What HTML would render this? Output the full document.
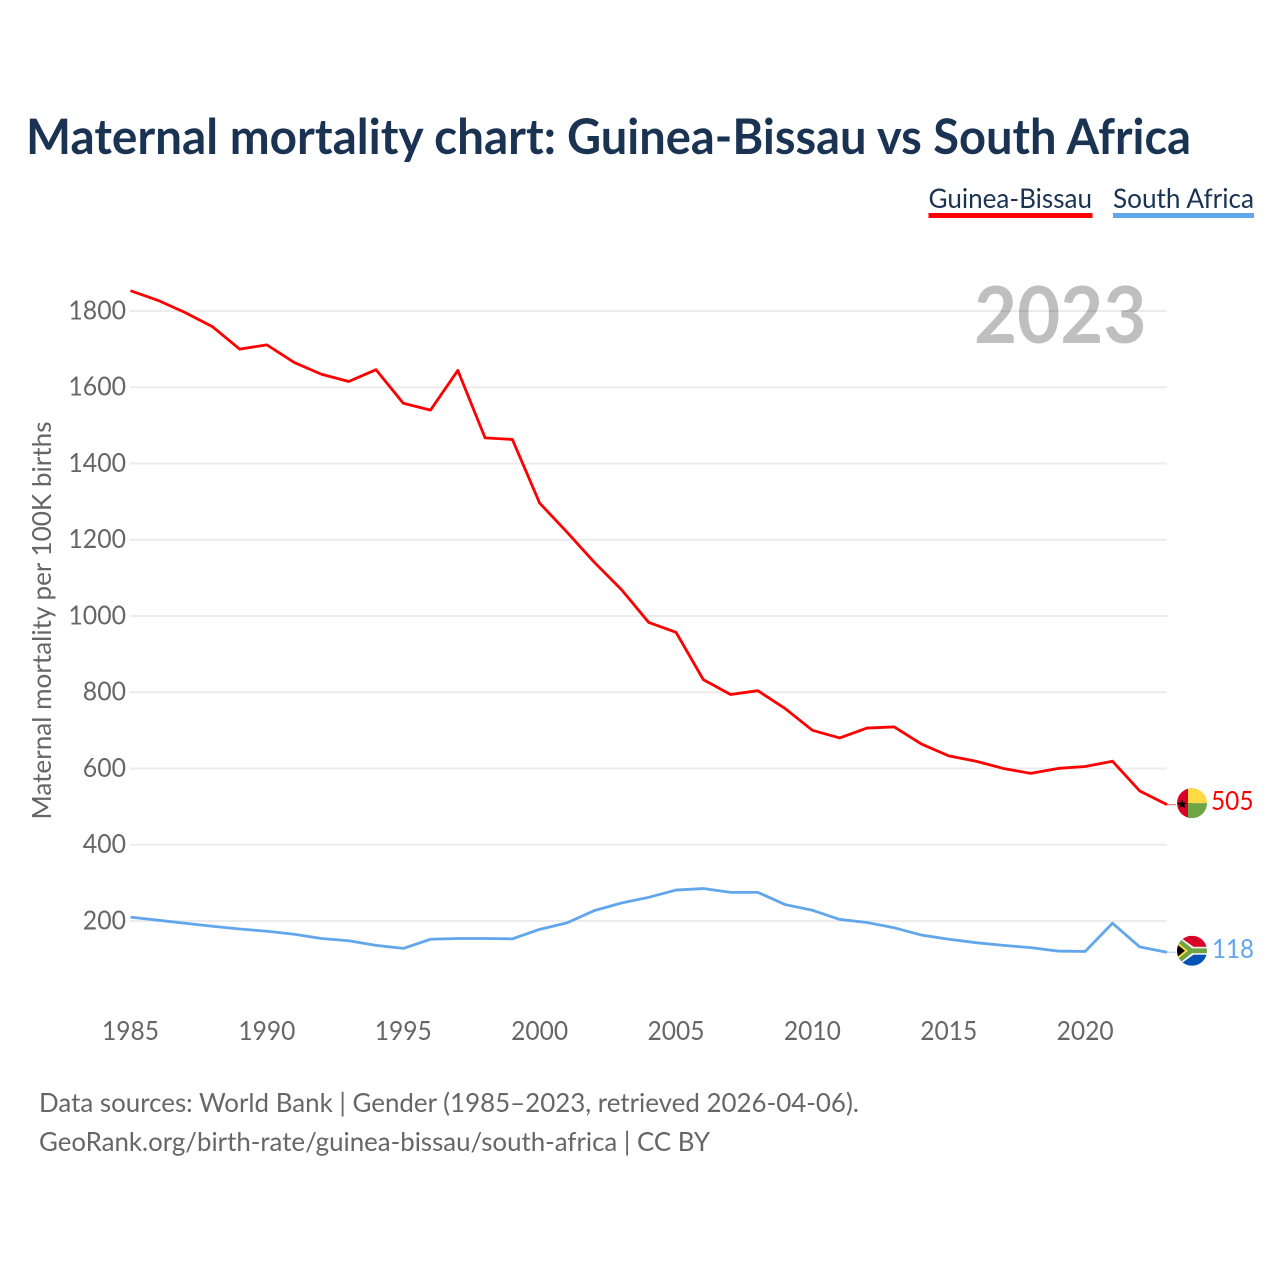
<!DOCTYPE html>
<html lang="en">
<head>
<meta charset="utf-8">
<title>Maternal mortality chart: Guinea-Bissau vs South Africa</title>
<style>
  html, body { margin: 0; padding: 0; background: #fff; }
  svg { display: block; }
  text { font-family: "Lato", "Carlito", "Liberation Sans", sans-serif; }
</style>
</head>
<body>
<svg id="chart" xmlns="http://www.w3.org/2000/svg" width="1280" height="1280" viewBox="0 0 1280 1280">
  <rect width="1280" height="1280" fill="#fff"/>
  <g>
    <text x="26" y="154" font-size="48.5" font-weight="700" fill="#1a3353" textLength="530" lengthAdjust="spacingAndGlyphs">Maternal mortality chart:</text>
    <text x="567" y="154" font-size="48.5" font-weight="700" fill="#1a3353" textLength="624" lengthAdjust="spacingAndGlyphs">Guinea-Bissau vs South Africa</text>
  </g>

  <g>
    <text x="928.5" y="208" font-size="27" fill="#1a3353" textLength="163.5" lengthAdjust="spacingAndGlyphs">Guinea-Bissau</text>
    <rect x="928.5" y="213" width="164" height="5" fill="#ff0000"/>
  </g>
  <g>
    <text x="1113" y="208" font-size="27" fill="#1a3353" textLength="141" lengthAdjust="spacingAndGlyphs">South Africa</text>
    <rect x="1113" y="213" width="141" height="5" fill="#62a6ec"/>
  </g>

  <g id="grid"></g>
  <g id="yticks"></g>
  <g id="xticks"></g>

  <text x="1146.5" y="343" font-size="79" font-weight="700" fill="#000" fill-opacity="0.25" text-anchor="end" textLength="172.5" lengthAdjust="spacingAndGlyphs">2023</text>

  <text transform="translate(51,620.5) rotate(-90)" font-size="26" fill="#666" text-anchor="middle" textLength="398" lengthAdjust="spacingAndGlyphs">Maternal mortality per 100K births</text>

  <g id="series"></g>

  <defs>
    <clipPath id="clip-gw"><circle cx="0" cy="0" r="15"/></clipPath>
    <clipPath id="clip-za"><circle cx="0" cy="0" r="15"/></clipPath>
  </defs>

  <g id="flag-gw" clip-path="url(#clip-gw)">
    <rect x="-15" y="-15" width="15" height="30" fill="#d80027"/>
    <rect x="-4" y="-15" width="19" height="15" fill="#ffda44"/>
    <rect x="-4" y="0" width="19" height="15" fill="#6da544"/>
    <polygon points="-10,-4 -8.6,-0.4 -5,-0.4 -7.8,1.8 -6.8,5.2 -10,3.2 -13.2,5.2 -12.2,1.8 -15,-0.4 -11.4,-0.4" fill="#000"/>
  </g>

  <g id="flag-za" clip-path="url(#clip-za)">
    <rect x="-15" y="-15" width="30" height="30" fill="#f0f0f0"/>
    <rect x="-15" y="-15" width="30" height="12" fill="#d80027"/>
    <rect x="-15" y="3" width="30" height="12" fill="#0052b4"/>
    <polygon points="-15,-13 -11,-13 1.5,-4 15,-4 15,4 1.5,4 -11,13 -15,13" fill="#f0f0f0"/>
    <polygon points="-15,-11.5 -11.5,-11.5 0,-2.4 15,-2.4 15,2.4 0,2.4 -11.5,11.5 -15,11.5" fill="#6da544"/>
    <polygon points="-15,-9 -4,0 -15,9" fill="#ffda44"/>
    <polygon points="-15,-6.5 -7,0 -15,6.5" fill="#000"/>
  </g>

  <text id="value-gw" x="1211" font-size="26" fill="#ff0000" textLength="42.5" lengthAdjust="spacingAndGlyphs"></text>
  <text id="value-za" x="1212" font-size="26" fill="#62a6ec" textLength="42" lengthAdjust="spacingAndGlyphs"></text>

  <text x="39" y="1112" font-size="26" fill="#666" textLength="820" lengthAdjust="spacingAndGlyphs">Data sources: World Bank | Gender (1985–2023, retrieved 2026-04-06).</text>
  <text x="39" y="1151" font-size="26" fill="#666" textLength="671" lengthAdjust="spacingAndGlyphs">GeoRank.org/birth-rate/guinea-bissau/south-africa | CC BY</text>
</svg>

<script>
const years = [1985,1986,1987,1988,1989,1990,1991,1992,1993,1994,1995,1996,1997,1998,1999,2000,2001,2002,2003,2004,2005,2006,2007,2008,2009,2010,2011,2012,2013,2014,2015,2016,2017,2018,2019,2020,2021,2022,2023];
const guineaBissau = [1853,1828,1796,1759,1700,1711,1665,1634,1615,1646,1558,1540,1644,1467,1463,1296,1220,1141,1069,983,957,833,794,804,757,700,680,706,709,664,633,619,600,587,600,605,619,541,505];
const southAfrica = [210,202,194,186,179,173,165,154,148,136,128,152,154,154,153,178,195,227,247,262,281,285,275,275,243,228,204,196,182,163,152,143,136,130,121,120,194,132,118];
const yTickValues = [200,400,600,800,1000,1200,1400,1600,1800];
const xTickValues = [1985,1990,1995,2000,2005,2010,2015,2020];

const NS = 'http://www.w3.org/2000/svg';
function xScale(year) { return 130.5 + (year - 1985) * (1167 - 130.5) / (2023 - 1985); }
function yScale(value) { return 997.2 - value * 0.38125; }

const gridLayer = document.getElementById('grid');
const yLayer = document.getElementById('yticks');
const xLayer = document.getElementById('xticks');
const seriesLayer = document.getElementById('series');

yTickValues.forEach(function (v) {
  const line = document.createElementNS(NS, 'line');
  
  
  line.setAttribute('x1', 130);
  line.setAttribute('x2', 1167);
  line.setAttribute('y1', yScale(v));
  line.setAttribute('y2', yScale(v));
  line.setAttribute('stroke', '#ececec');
  line.setAttribute('stroke-width', 2);
  gridLayer.appendChild(line);

  const label = document.createElementNS(NS, 'text');
  
  
  label.setAttribute('x', 126);
  label.setAttribute('y', yScale(v) + 8.5);
  label.setAttribute('font-size', 26.5);
  label.setAttribute('fill', '#666');
  label.setAttribute('text-anchor', 'end');
  label.setAttribute('textLength', String(v).length * 14.4);
  label.setAttribute('lengthAdjust', 'spacingAndGlyphs');
  label.textContent = v;
  yLayer.appendChild(label);
});

xTickValues.forEach(function (y) {
  const label = document.createElementNS(NS, 'text');
  
  
  label.setAttribute('x', xScale(y));
  label.setAttribute('y', 1040);
  label.setAttribute('font-size', 26);
  label.setAttribute('fill', '#666');
  label.setAttribute('text-anchor', 'middle');
  label.setAttribute('textLength', 57);
  label.setAttribute('lengthAdjust', 'spacingAndGlyphs');
  label.textContent = y;
  xLayer.appendChild(label);
});

function pathFor(values) {
  return values.map(function (v, i) {
    return (i ? 'L' : 'M') + xScale(years[i]).toFixed(2) + ' ' + yScale(v).toFixed(2);
  }).join(' ');
}

const lineZa = document.createElementNS(NS, 'path');


lineZa.setAttribute('d', pathFor(southAfrica));
lineZa.setAttribute('fill', 'none');
lineZa.setAttribute('stroke', '#62a6ec');
lineZa.setAttribute('stroke-width', 2.8);
lineZa.setAttribute('stroke-linejoin', 'round');
seriesLayer.appendChild(lineZa);

const lineGw = document.createElementNS(NS, 'path');


lineGw.setAttribute('d', pathFor(guineaBissau));
lineGw.setAttribute('fill', 'none');
lineGw.setAttribute('stroke', '#ff0000');
lineGw.setAttribute('stroke-width', 2.8);
lineGw.setAttribute('stroke-linejoin', 'round');
seriesLayer.appendChild(lineGw);

const lastGw = guineaBissau[guineaBissau.length - 1];
const lastZa = southAfrica[southAfrica.length - 1];

const stubGw = document.createElementNS(NS, 'line');


stubGw.setAttribute('x1', 1167);
stubGw.setAttribute('x2', 1176);
stubGw.setAttribute('y1', yScale(lastGw));
stubGw.setAttribute('y2', yScale(lastGw));
stubGw.setAttribute('stroke', '#ff0000');
stubGw.setAttribute('stroke-opacity', 0.6);
stubGw.setAttribute('stroke-width', 1);
seriesLayer.appendChild(stubGw);

const stubZa = document.createElementNS(NS, 'line');


stubZa.setAttribute('x1', 1167);
stubZa.setAttribute('x2', 1176);
stubZa.setAttribute('y1', yScale(lastZa));
stubZa.setAttribute('y2', yScale(lastZa));
stubZa.setAttribute('stroke', '#62a6ec');
stubZa.setAttribute('stroke-opacity', 0.6);
stubZa.setAttribute('stroke-width', 1);
seriesLayer.appendChild(stubZa);

document.getElementById('flag-gw').setAttribute('transform', 'translate(1192,' + (yScale(lastGw) - 1.5) + ')');
document.getElementById('flag-za').setAttribute('transform', 'translate(1192,' + (yScale(lastZa) - 1.5) + ')');

const valueGw = document.getElementById('value-gw');
valueGw.setAttribute('y', yScale(lastGw) + 5.5);
valueGw.textContent = lastGw;
const valueZa = document.getElementById('value-za');
valueZa.setAttribute('y', yScale(lastZa) + 6);
valueZa.textContent = lastZa;
</script>
</body>
</html>
